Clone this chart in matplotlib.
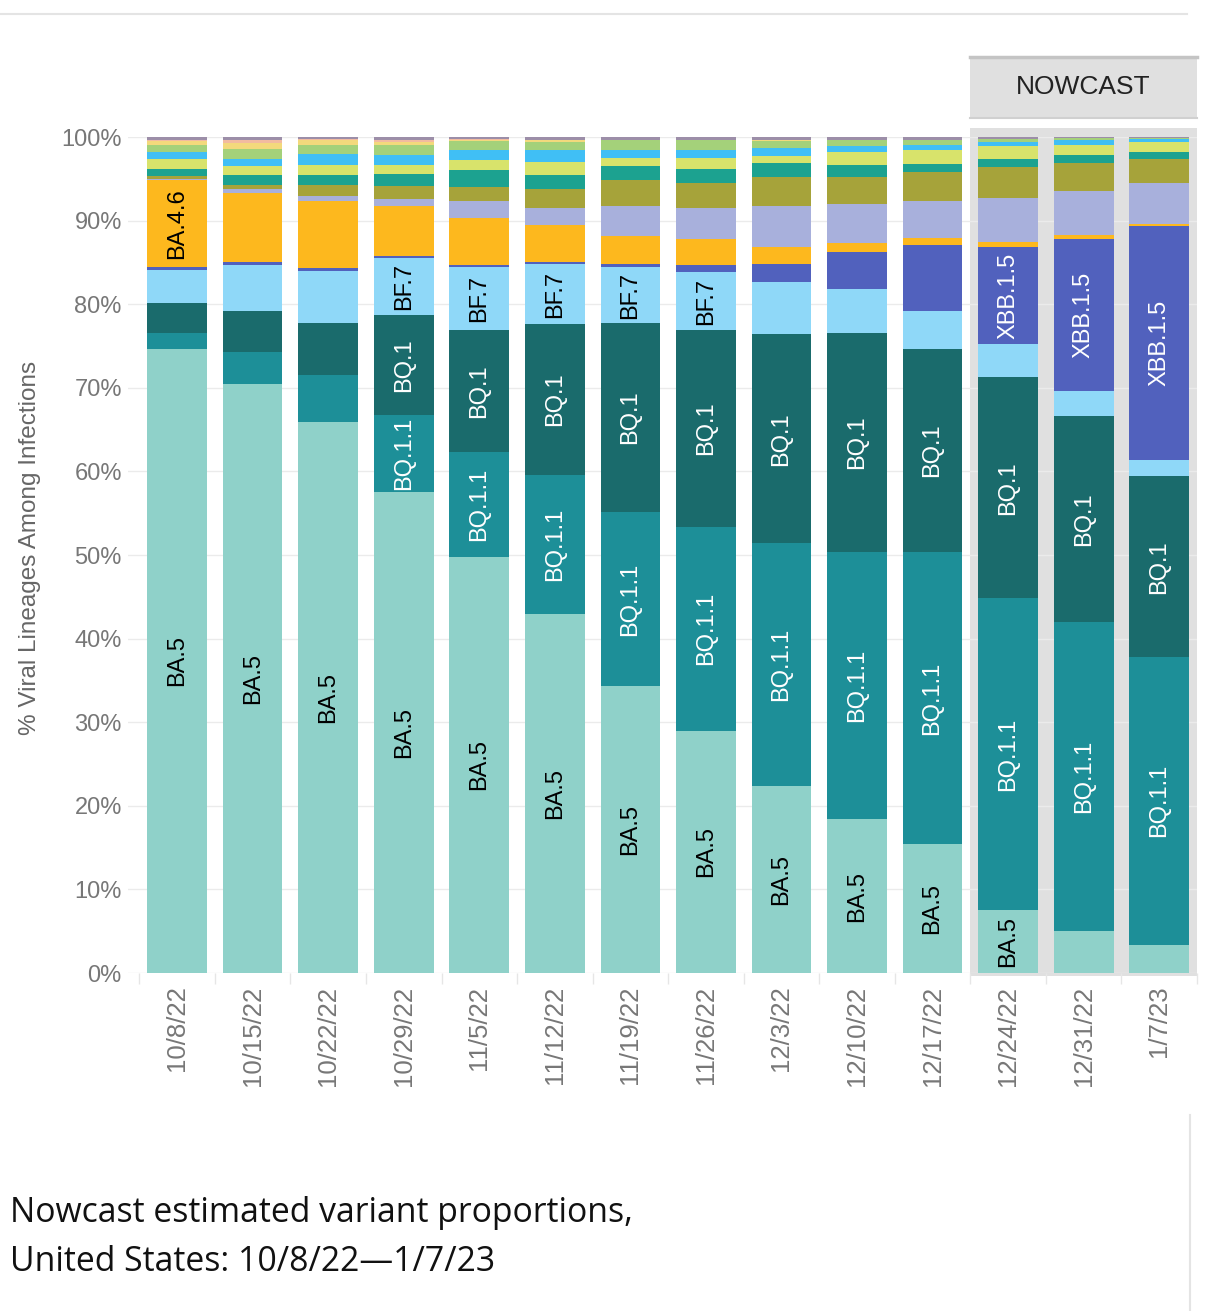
import matplotlib.pyplot as plt
from matplotlib.patches import Rectangle

# weeks shown on the x axis
weeks = ['10/8/22', '10/15/22', '10/22/22', '10/29/22', '11/5/22', '11/12/22', '11/19/22',
         '11/26/22', '12/3/22', '12/10/22', '12/17/22', '12/24/22', '12/31/22', '1/7/23']

# variant shares (%) per week, stacked bottom to top
ba5 = [74.7, 70.5, 65.9, 57.5, 49.8, 42.9, 34.3, 29.0, 22.4, 18.4, 15.4, 7.5, 5.0, 3.4]
bq11 = [1.9, 3.8, 5.6, 9.3, 12.5, 16.7, 20.9, 24.4, 29.0, 31.9, 34.9, 37.3, 37.0, 34.4]
bq1 = [3.5, 4.9, 6.3, 11.9, 14.6, 18.0, 22.5, 23.5, 25.0, 26.3, 24.4, 26.5, 24.6, 21.6]
bf7 = [4.0, 5.5, 6.2, 6.8, 7.5, 7.2, 6.7, 6.9, 6.2, 5.2, 4.5, 3.9, 3.0, 2.0]
xbb15 = [0.3, 0.3, 0.3, 0.3, 0.3, 0.3, 0.4, 0.9, 2.2, 4.5, 7.9, 11.6, 18.2, 27.9]
ba46 = [10.5, 8.3, 8.0, 5.9, 5.6, 4.4, 3.3, 3.1, 2.0, 1.0, 0.8, 0.7, 0.5, 0.3]
xbb = [0.1, 0.5, 0.7, 0.9, 2.0, 2.0, 3.7, 3.7, 4.9, 4.7, 4.4, 5.2, 5.2, 4.9]
bn1 = [0.3, 0.5, 1.2, 1.5, 1.7, 2.3, 3.0, 3.0, 3.5, 3.2, 3.5, 3.7, 3.4, 2.9]
ba275 = [0.9, 1.2, 1.2, 1.5, 2.0, 1.7, 1.7, 1.7, 1.7, 1.5, 1.0, 1.0, 1.0, 0.8]
ba2752 = [1.2, 1.0, 1.3, 1.0, 1.2, 1.5, 1.0, 1.3, 0.8, 1.5, 1.7, 1.5, 1.2, 1.2]
ba526 = [0.8, 0.9, 1.3, 1.3, 1.2, 1.5, 1.0, 1.0, 1.0, 0.7, 0.5, 0.5, 0.6, 0.4]
bf11 = [0.8, 1.2, 1.1, 1.1, 1.1, 0.9, 1.1, 1.1, 0.8, 0.7, 0.6, 0.4, 0.2, 0.1]
ba2 = [0.5, 0.7, 0.5, 0.4, 0.2, 0.2, 0.1, 0.1, 0.1, 0.1, 0.1, 0.0, 0.0, 0.0]
ba2121 = [0.2, 0.3, 0.2, 0.2, 0.1, 0.1, 0.0, 0.0, 0.0, 0.0, 0.0, 0.0, 0.0, 0.0]
other = [0.3, 0.4, 0.4, 0.4, 0.3, 0.4, 0.3, 0.3, 0.4, 0.3, 0.3, 0.2, 0.1, 0.1]

series = [
    ('BA.5', ba5, '#8fd1c9', 'black'),
    ('BQ.1.1', bq11, '#1d8f98', 'white'),
    ('BQ.1', bq1, '#1a6b6c', 'white'),
    ('BF.7', bf7, '#8fd8f8', 'black'),
    ('XBB.1.5', xbb15, '#5161bd', 'white'),
    ('BA.4.6', ba46, '#fdb81e', 'black'),
    ('XBB', xbb, '#a8b0dc', 'black'),
    ('BN.1', bn1, '#a6a33a', 'black'),
    ('BA.2.75', ba275, '#1ca290', 'black'),
    ('BA.2.75.2', ba2752, '#d8e36b', 'black'),
    ('BA.5.2.6', ba526, '#40bff5', 'black'),
    ('BF.11', bf11, '#a4d17a', 'black'),
    ('BA.2', ba2, '#f3d97c', 'black'),
    ('BA.2.12.1', ba2121, '#f2bba0', 'black'),
    ('Other', other, '#9c8ea8', 'black'),
]

# which segments carry a label inside the bar
labelled = {
    'BA.5': range(0, 12),
    'BQ.1.1': range(3, 14),
    'BQ.1': range(3, 14),
    'BF.7': range(3, 8),
    'BA.4.6': [0],
    'XBB.1.5': range(11, 14),
}

plt.rcParams['font.family'] = ['Liberation Sans', 'DejaVu Sans']

fig = plt.figure(figsize=(12.05, 13.11), dpi=100)
ax = fig.add_axes([128 / 1205, 1 - 973 / 1311, 1069 / 1205, 836 / 1311])

x = list(range(len(weeks)))

# nowcast background panel and header
ax.add_patch(Rectangle((10.5, -0.4), 3.0, 101.5, facecolor='#e0e0e0', edgecolor='none',
                       clip_on=False, zorder=0.5))
ax.add_patch(Rectangle((10.5, 102.3), 3.0, 7.3, facecolor='#e0e0e0', edgecolor='none',
                       clip_on=False, zorder=0.5))
ax.plot([10.5, 13.5], [109.6, 109.6], color='#c4c4c4', lw=2.5, clip_on=False)
ax.plot([10.5, 13.5], [102.3, 102.3], color='#d0d0d0', lw=1.5, clip_on=False)
ax.text(12.0, 106.0, 'NOWCAST', ha='center', va='center', fontsize=19, color='#222222')

bottom = [0.0] * len(weeks)
for name, vals, color, tcolor in series:
    ax.bar(x, vals, width=0.79, bottom=bottom, color=color, edgecolor='none', zorder=2)
    for i in labelled.get(name, []):
        ax.text(i, bottom[i] + vals[i] / 2, name, rotation=90, ha='center', va='center',
                fontsize=17, color=tcolor, zorder=3)
    bottom = [b + v for b, v in zip(bottom, vals)]

ax.set_xlim(-0.65, 13.5)
ax.set_ylim(0, 100)
ax.set_yticks(range(0, 101, 10))
ax.set_yticklabels([f'{v}%' for v in range(0, 101, 10)], fontsize=17, color='#777777')
ax.set_xticks(x)
ax.set_xticklabels(weeks, rotation=90, fontsize=18.5, color='#777777')
ax.set_xticks([i + 0.5 for i in range(-1, 14)], minor=True)
ax.tick_params(axis='both', which='major', length=0)
ax.tick_params(axis='y', pad=4.5)
ax.tick_params(axis='x', pad=9)
ax.tick_params(axis='x', which='minor', length=8, color='#e6e6e6', width=1)
ax.grid(axis='y', color='#ebebeb', lw=1, zorder=0)
ax.set_axisbelow(True)
for s in ax.spines.values():
    s.set_visible(False)

fig.text(30 / 1205, 1 - 548 / 1311, '% Viral Lineages Among Infections', rotation=90,
         ha='center', va='center', fontsize=17.5, color='#666666')

# page decorations
fig.add_artist(plt.Line2D([0, 1187 / 1205], [1 - 14 / 1311] * 2, color='#e4e4e4', lw=1.5))
fig.add_artist(plt.Line2D([1190 / 1205] * 2, [0, 1 - 1115 / 1311], color='#e4e4e4', lw=1.5))

fig.text(10 / 1205, 1 - 1213 / 1311, 'Nowcast estimated variant proportions,',
         fontsize=24.3, family='Open Sans', va='center', color='#111111')
fig.text(10 / 1205, 1 - 1262 / 1311, 'United States: 10/8/22\u20141/7/23',
         fontsize=24.3, family='Open Sans', va='center', color='#111111')

fig.savefig('out.png', dpi=100, facecolor='white')
